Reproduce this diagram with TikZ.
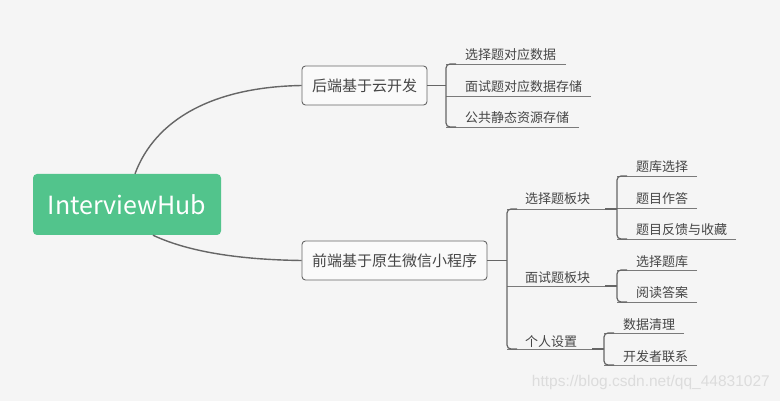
\documentclass[tikz,border=0pt]{standalone}
\usepackage{fontspec}
\setmainfont{Noto Sans CJK SC}
\newfontfamily\wmfont{Liberation Sans}
\definecolor{bgc}{HTML}{F5F5F5}
\definecolor{boxc}{HTML}{FAFAFA}
\definecolor{rootg}{HTML}{52C48C}
\definecolor{linec}{HTML}{666666}
\definecolor{ulc}{HTML}{7A7A7A}
\definecolor{txc}{HTML}{454545}
\definecolor{wmc}{HTML}{DCDCDC}
\begin{document}
\begin{tikzpicture}[x=1pt,y=-1pt,
  rootbox/.style={fill=rootg, rounded corners=4pt, minimum width=188pt, minimum height=61pt,
    text=white, font=\fontsize{25}{25}\selectfont, inner sep=0pt},
  topic/.style={draw=linec, line width=0.9pt, fill=boxc, rounded corners=3.5pt,
    text=txc, font=\fontsize{15}{15}\selectfont, inner sep=0pt},
  leaf/.style={anchor=west, inner sep=0pt, text=txc, font=\fontsize{13}{13}\selectfont},
  branch/.style={draw=linec, line width=1.2pt, rounded corners=4pt},
  uline/.style={draw=ulc, line width=0.9pt},
  curve/.style={draw=linec, line width=1.4pt}]
\fill[bgc] (0,0) rectangle (780,401);
\useasboundingbox (0,0) rectangle (780,401);

\node[rootbox] (root) at (127,204.5) {InterviewHub};
\node[topic, minimum width=125pt, minimum height=39pt] (b1) at (364.5,85.5) {后端基于云开发};
\node[topic, minimum width=185pt, minimum height=39pt] (b2) at (394.5,260.5) {前端基于原生微信小程序};
\draw[curve] ([xshift=8pt]root.north) .. controls (155,120) and (212,87) .. (b1.west);
\draw[curve] ([xshift=26pt]root.south) .. controls (180,248) and (225,259.5) .. (b2.west);

% ---- backend children
\node[leaf] (c1) at (465,55) {选择题对应数据};
\node[leaf] (c2) at (465,87) {面试题对应数据存储};
\node[leaf] (c3) at (465,118) {公共静态资源存储};
\coordinate (k1) at (446,85.5);
\coordinate (c1e) at (566,64);
\coordinate (c2e) at (591,96);
\coordinate (c3e) at (579,127);
\draw[uline] (c1e) -- (k1 |- c1e);
\draw[uline] (c2e) -- (k1 |- c2e);
\draw[uline] (c3e) -- (k1 |- c3e);
\draw[branch] ([xshift=10pt]k1 |- c1e) -- (k1 |- c1e) -- (k1 |- c3e) -- ([xshift=10pt]k1 |- c3e);
\draw[branch] (b1.east) -- (k1);

% ---- frontend children
\node[leaf] (d1) at (525,199) {选择题板块};
\node[leaf] (d2) at (525,278) {面试题板块};
\node[leaf] (d3) at (525,342) {个人设置};
\coordinate (k2) at (507,260.5);
\coordinate (k3) at (617,209);
\coordinate (k4) at (617,286);
\coordinate (k5) at (604,349);
\draw[uline] (k3) -- (k2 |- k3);
\draw[uline] (k4) -- (k2 |- k4);
\draw[uline] (k5) -- (k2 |- k5);
\draw[branch] ([xshift=10pt]k2 |- k3) -- (k2 |- k3) -- (k2 |- k5) -- ([xshift=10pt]k2 |- k5);
\draw[branch] (b2.east) -- (k2);

% 选择题板块 children
\node[leaf] (e1) at (636,167) {题库选择};
\node[leaf] (e2) at (636,199) {题目作答};
\node[leaf] (e3) at (636,230) {题目反馈与收藏};
\coordinate (e1e) at (697,176);
\coordinate (e2e) at (697,208.5);
\coordinate (e3e) at (736,239);
\draw[uline] (e1e) -- (k3 |- e1e);
\draw[uline] (e2e) -- (k3 |- e2e);
\draw[uline] (e3e) -- (k3 |- e3e);
\draw[branch] ([xshift=10pt]k3 |- e1e) -- (k3 |- e1e) -- (k3 |- e3e) -- ([xshift=10pt]k3 |- e3e);
\draw[branch] ([xshift=-12pt]k3) -- (k3);

% 面试题板块 children
\node[leaf] (f1) at (636,262) {选择题库};
\node[leaf] (f2) at (636,293) {阅读答案};
\coordinate (f1e) at (697,270);
\coordinate (f2e) at (697,302);
\draw[uline] (f1e) -- (k4 |- f1e);
\draw[uline] (f2e) -- (k4 |- f2e);
\draw[branch] ([xshift=10pt]k4 |- f1e) -- (k4 |- f1e) -- (k4 |- f2e) -- ([xshift=10pt]k4 |- f2e);
\draw[branch] ([xshift=-12pt]k4) -- (k4);

% 个人设置 children
\node[leaf] (g1) at (623,325) {数据清理};
\node[leaf] (g2) at (623,357) {开发者联系};
\coordinate (g1e) at (684,333);
\coordinate (g2e) at (697,365);
\draw[uline] (g1e) -- (k5 |- g1e);
\draw[uline] (g2e) -- (k5 |- g2e);
\draw[branch] ([xshift=10pt]k5 |- g1e) -- (k5 |- g1e) -- (k5 |- g2e) -- ([xshift=10pt]k5 |- g2e);
\draw[branch] ([xshift=-12pt]k5) -- (k5);

% watermark
\node[anchor=east, inner sep=0pt, text=wmc, font=\wmfont\fontsize{15.5}{15.5}\selectfont] (wm) at (770,382) {https://blog.csdn.net/qq\_44831027};
\end{tikzpicture}
\end{document}
